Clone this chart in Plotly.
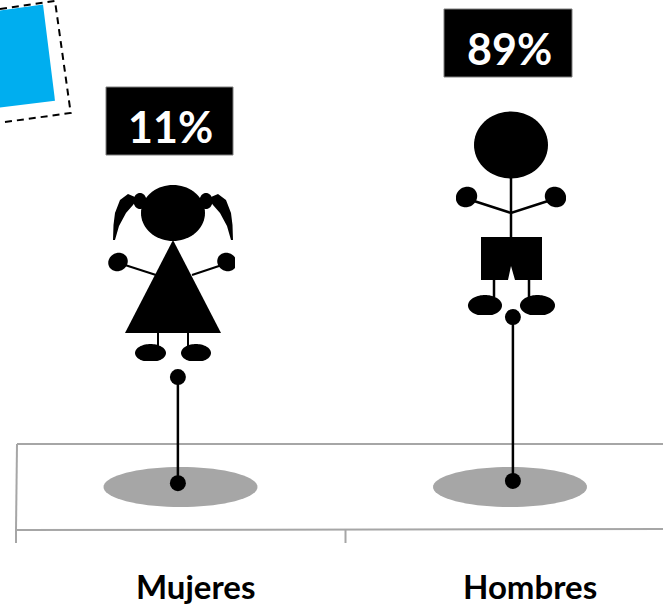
import numpy as np
import plotly.graph_objects as go

W, H = 663, 607

# Chart data
categories = ["Mujeres", "Hombres"]
values = [11, 89]
stem_base = [-127, -124]

FONT = "Lato"
GREY = "#a6a6a6"


def px(x):
    return x / W


def py(y):
    return 1 - y / H


def path_of(points, close=True):
    s = "M" + " L".join(f"{px(x):.5f},{py(y):.5f}" for x, y in points)
    return s + (" Z" if close else "")


shapes = []


def poly(points, fill="black", line=None, lw=0, close=True, layer="above", dash=None):
    shapes.append(dict(
        type="path", xref="paper", yref="paper", path=path_of(points, close), layer=layer,
        fillcolor=fill if close else None,
        line=dict(color=line or "rgba(0,0,0,0)", width=lw, dash=dash),
    ))


def stroke(points, lw=2.5, color="black", dash=None, layer="above"):
    shapes.append(dict(
        type="path", xref="paper", yref="paper", path=path_of(points, False), layer=layer,
        line=dict(color=color, width=lw, dash=dash),
    ))


def ellipse(cx, cy, rx, ry, rot=0, fill="black", clip=None, layer="above"):
    t = np.linspace(0, 2 * np.pi, 72, endpoint=False)
    c, s = np.cos(np.radians(rot)), np.sin(np.radians(rot))
    ex, ey = rx * np.cos(t), ry * np.sin(t)
    xs = cx + ex * c - ey * s
    ys = cy + ex * s + ey * c
    if clip:
        xs = np.clip(xs, clip[0], clip[1])
        ys = np.clip(ys, clip[2], clip[3])
    poly(list(zip(xs, ys)), fill=fill, layer=layer)


# Blue note with dashed frame, running off the top-left corner
poly([(0, 10.5), (43, 4.5), (55, 100.7), (0, 107.5)], fill="#00AEEF")
stroke([(0, 9), (55, 1), (70.7, 113), (0, 122.7)], lw=2, dash="7px,5px")

# Ground panel
for seg in ([(17, 444), (663, 444)], [(17, 444), (16, 530)], [(16, 530), (663, 529)],
            [(16, 530), (16, 543)], [(345.5, 530), (345.5, 543)]):
    stroke(seg, lw=2, color=GREY, layer="below")
ellipse(180.5, 487, 77, 20, fill=GREY, layer="below")
ellipse(510, 487, 77, 20, fill=GREY, layer="below")

# Girl pictogram
ellipse(173, 213, 32, 28)
ellipse(140, 201, 6.5, 8)
ellipse(206, 201, 6.5, 8)
for sgn in (-1, 1):
    m = lambda x: 173 + sgn * x
    pts = [(m(60), 240), (m(59.5), 225), (m(58), 213), (m(53), 200), (m(45), 194), (m(38), 197),
           (m(35), 198), (m(40), 205), (m(47), 213), (m(54), 226), (m(58), 240)]
    poly(pts)
poly([(173, 240), (221, 333), (125, 333)])
ellipse(118, 262, 10, 9, rot=-30)
ellipse(227, 262, 10, 9, rot=30, clip=(0, 235, 0, H))
stroke([(125, 265), (156, 275)], lw=2)
stroke([(192, 275), (222, 265)], lw=2)
stroke([(158, 333), (158, 346)], lw=2)
stroke([(188, 333), (188, 346)], lw=2)
ellipse(150.5, 353, 15.5, 9, clip=(0, W, 0, 361))
ellipse(196, 353, 15, 9, clip=(0, W, 0, 361))

# Boy pictogram
ellipse(511, 145, 37, 33.5)
stroke([(511, 178), (511, 238)], lw=2.5)
stroke([(474, 201), (511, 213), (548, 201)], lw=2.5)
ellipse(466.5, 197, 11, 10, rot=-35, clip=(456, W, 0, H))
ellipse(555.5, 197, 11, 10, rot=35, clip=(0, 566, 0, H))
poly([(481, 237), (542, 237), (542, 280), (515, 280), (511, 266), (508, 280), (481, 280)])
stroke([(494, 280), (494, 297)], lw=2.5)
stroke([(529, 280), (529, 297)], lw=2.5)
ellipse(485, 305.5, 17, 10.5, clip=(0, W, 0, 315))
ellipse(537.5, 305.5, 17.5, 10.5, clip=(0, W, 0, 315))

# Percentage boxes
boxes = [(106, 87, 233, 155), (444, 9, 572, 77)]
for x0, y0, x1, y1 in boxes:
    shapes.append(dict(type="rect", xref="paper", yref="paper", x0=px(x0), x1=px(x1),
                       y0=py(y1), y1=py(y0), fillcolor="black",
                       line=dict(color="#7f7f7f", width=1)))

annotations = []
for v, (x0, y0, x1, y1) in zip(values, boxes):
    annotations.append(dict(
        text=f"<b>{v}%</b>", xref="paper", yref="paper", x=px((x0 + x1) / 2 + 1), y=py((y0 + y1) / 2 + 6),
        showarrow=False, xanchor="center", yanchor="middle",
        font=dict(family=FONT, size=43, color="white"),
    ))
for cat, cx in zip(categories, (195.5, 530)):
    annotations.append(dict(
        text=f"<b>{cat}</b>", xref="paper", yref="paper", x=px(cx), y=py(586),
        showarrow=False, xanchor="center", yanchor="middle",
        font=dict(family=FONT, size=33, color="black"),
    ))

fig = go.Figure()
for cat, v, base in zip(categories, values, stem_base):
    fig.add_trace(go.Scatter(
        x=[cat, cat], y=[base, v], mode="lines+markers",
        line=dict(color="black", width=2.5),
        marker=dict(color="black", size=16, line=dict(width=0)),
        showlegend=False, hoverinfo="skip",
    ))

fig.update_layout(
    width=W, height=H, margin=dict(l=0, r=0, t=0, b=0),
    paper_bgcolor="white", plot_bgcolor="rgba(0,0,0,0)", showlegend=False,
    xaxis=dict(type="category", categoryorder="array", categoryarray=categories,
               range=[-0.531, 1.448], visible=False, domain=[0, 1]),
    yaxis=dict(range=[-288, 501.3], visible=False, domain=[0, 1]),
    shapes=shapes, annotations=annotations,
)
fig.write_html("out.html", post_script="document.body.style.margin='0';",
               config={"displayModeBar": False})
